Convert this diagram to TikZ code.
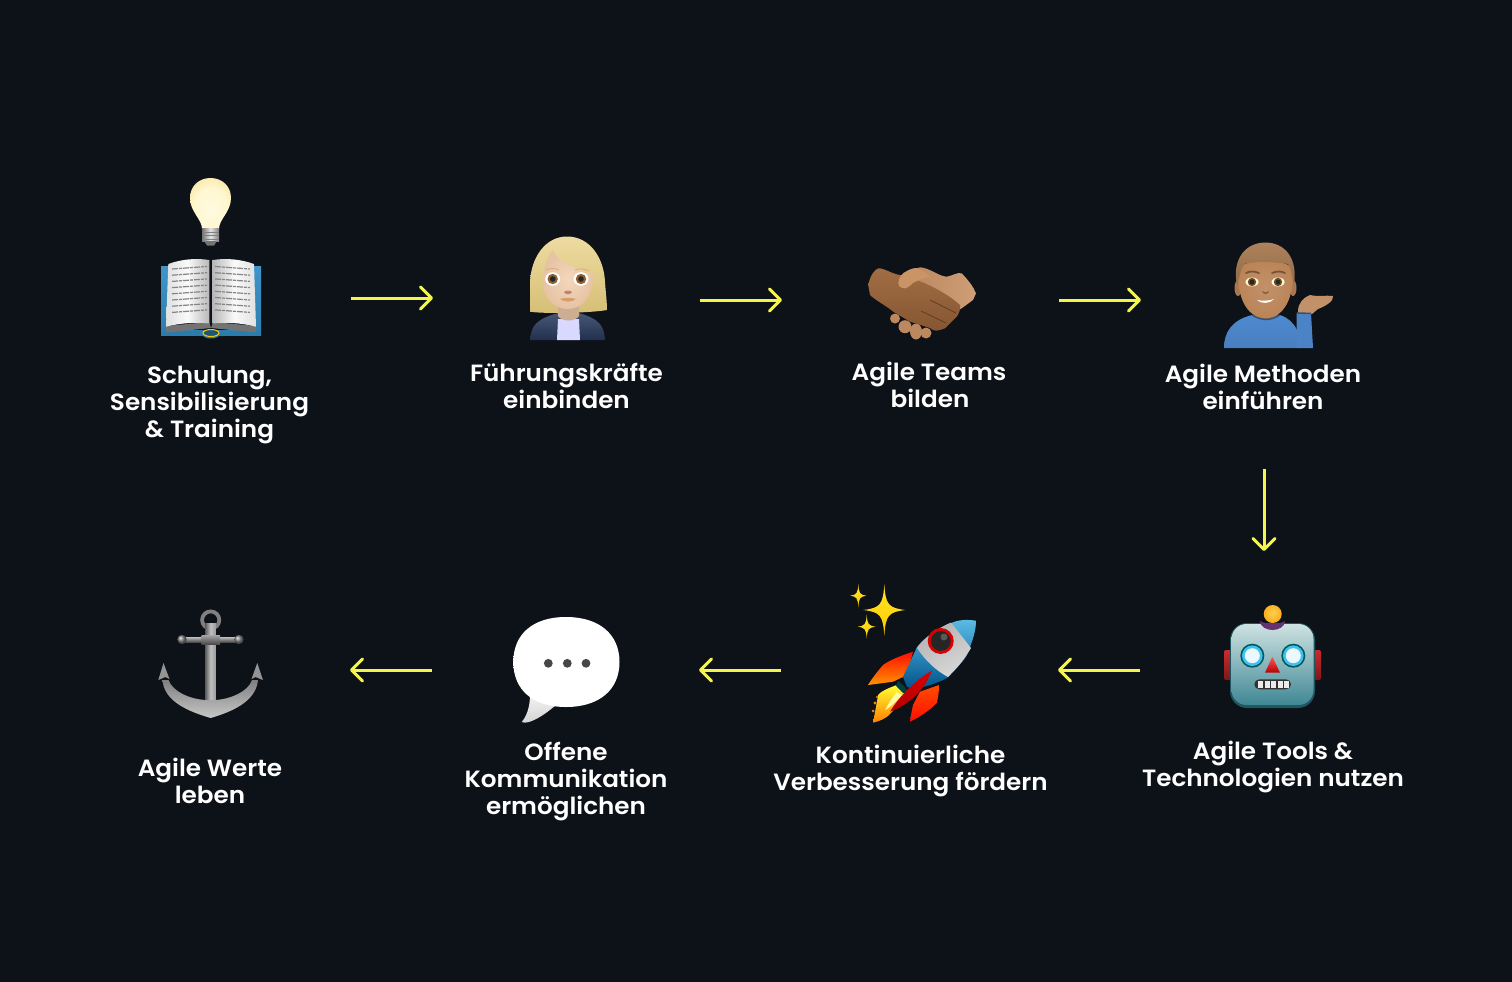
\documentclass[tikz,border=0pt]{standalone}
\usepackage{fontspec}
\setmainfont{Poppins}[UprightFont=* SemiBold,FakeStretch=1.05]
\usetikzlibrary{arrows.meta}
\definecolor{bgc}{HTML}{0D1118}
\definecolor{yel}{HTML}{F4F54C}
\definecolor{skinw}{HTML}{F2CDAC}
\definecolor{skinm}{HTML}{BB8458}
\definecolor{hairw}{HTML}{E8CF80}
\definecolor{hairm}{HTML}{A5784E}
\definecolor{shirtm}{HTML}{4E8AD0}
\definecolor{navy}{HTML}{26395C}
\definecolor{handd}{HTML}{9C653A}
\definecolor{handl}{HTML}{CB9467}
\definecolor{coverb}{HTML}{3F96C8}
\definecolor{coverd}{HTML}{2A7CAC}
\definecolor{robtop}{HTML}{CFE2E2}
\definecolor{robbot}{HTML}{3F8794}
\definecolor{robedge}{HTML}{1F5660}
\definecolor{earred}{HTML}{CC2A2E}
\pgfdeclareradialshading{bubshade}{\pgfpoint{0bp}{0bp}}{rgb(0bp)=(1,1,1);rgb(34bp)=(1,1,1);rgb(44bp)=(.93,.93,.93);rgb(50bp)=(.68,.68,.68);rgb(100bp)=(.6,.6,.6)}
\pgfdeclareradialshading{bulbshade}{\pgfpoint{0bp}{-6bp}}{rgb(0bp)=(1,.98,.88);rgb(20bp)=(1,.97,.82);rgb(36bp)=(.97,.89,.60);rgb(50bp)=(.88,.74,.36);rgb(100bp)=(.85,.7,.3)}
\pgfdeclareradialshading{ballshade}{\pgfpoint{0bp}{4bp}}{rgb(0bp)=(1,.82,.3);rgb(25bp)=(.98,.68,.12);rgb(50bp)=(.9,.5,.05);rgb(100bp)=(.9,.5,.05)}
\tikzset{
  lab/.style={text=white,align=center,inner sep=0pt,font=\fontsize{23.5}{27}\selectfont},
  flow/.style={draw=yel,line width=3pt,-{Straight Barb[length=11pt,width=22pt,line width=3pt,round]}},
  pagetext/.style={draw=black!48,line width=1.2pt,dash pattern=on 6pt off 1pt on 3pt off 1pt}
}
\begin{document}
\begin{tikzpicture}[x=1pt,y=-1pt]
\fill[bgc] (0,0) rectangle (1512,982);
\useasboundingbox (0,0) rectangle (1512,982);

% ---- light bulb
\shade[shading=bulbshade]
  (190,198) .. controls (190,186) and (199,178) .. (210.5,178) .. controls (222,178) and (231,186) .. (231,198)
  .. controls (231,212) and (219,219) .. (219,229) -- (202,229) .. controls (202,219) and (190,212) .. (190,198) -- cycle;
\shade[left color=black!55,right color=black!50,middle color=white!90!black] (202,228) rectangle (219,241);
\foreach \yy in {232,235.5,239}{\draw[black!50,line width=.7pt] (202,\yy) -- (219,\yy);}
\fill[black!55] (204,241) -- (217,241) -- (214,245.5) -- (207,245.5) -- cycle;

% ---- book
\shade[top color=coverb,bottom color=coverd]
  (161,266) -- (168,266) -- (168,330) -- (254,330) -- (254,266) -- (261,266) -- (261,336) -- (220,334) .. controls (219,340) and (203,340) .. (202,334) -- (161,336) -- cycle;
\fill[coverd] (161,331) -- (261,331) -- (261,336) -- (161,336) -- cycle;
\fill[black!55] (166,326) -- (209,322) -- (211,328) -- (166,332.5) -- cycle;
\fill[black!55] (256,326) -- (213,322) -- (211,328) -- (256,332.5) -- cycle;
\shade[left color=black!12,right color=black!28,middle color=black!2]
  (168.3,264) .. controls (182,259) and (196,258) .. (209.3,260) -- (209.3,323.5) .. controls (196,322) and (180,323) .. (166,326.7) -- cycle;
\shade[right color=black!12,left color=black!28,middle color=black!2]
  (254,264) .. controls (240,259) and (226,258) .. (212.7,260) -- (212.7,323.5) .. controls (226,322) and (242,323) .. (256,326.7) -- cycle;
\foreach \i in {0,...,7}{
  \draw[pagetext] (172,269+6.2*\i) -- (207,266.5+6.2*\i);
  \draw[pagetext] (215,266.5+6.2*\i) -- (250,269+6.2*\i);
}
\draw[yellow!60!orange,line width=1pt,fill=coverd!70!black] (211,333) ellipse [x radius=8pt,y radius=3.5pt];

% ---- woman
\shade[top color=hairw!75!white,bottom color=hairw!92!black]
  (567,236.5) .. controls (590,236.5) and (604,258) .. (605,282) .. controls (606,295) and (607,303) .. (607,310)
  .. controls (590,313) and (545,314) .. (530,311.7) .. controls (530,303) and (530,293) .. (530,282)
  .. controls (531,258) and (545,236.5) .. (567,236.5) -- cycle;
\shade[top color=navy!85!white,bottom color=navy!85!black]
  (530,340) .. controls (531,325) and (537,319) .. (558,313) -- (579,313) .. controls (599,319) and (604,325) .. (605,340) -- cycle;
\fill[white!85!blue] (558,319) -- (579,319) -- (580,340) -- (557,340) -- cycle;
\fill[skinw!85!black] (558,300) -- (579,300) -- (579,316) .. controls (575,322) and (562,322) .. (558,316) -- cycle;
\shade[inner color=skinw!80!white,outer color=skinw!95!black]
  (543,282) .. controls (543,268) and (548,255) .. (553,250) .. controls (557,262) and (575,268) .. (593,274)
  .. controls (594,296) and (582,309) .. (568,309) .. controls (554,309) and (543,298) .. (543,282) -- cycle;
\draw[brown!45!skinw,line width=.8pt] (546,270) .. controls (550,268) and (555,268) .. (559,270);
\draw[brown!45!skinw,line width=.8pt] (575,270) .. controls (580,268) and (585,269) .. (589,271);
\fill[white] (552.7,279) ellipse [x radius=7.5pt,y radius=6.8pt];
\fill[white] (581,279) ellipse [x radius=7.5pt,y radius=6.8pt];
\fill[brown!75!black] (552.7,279) circle [radius=5.2pt];
\fill[brown!75!black] (581,279) circle [radius=5.2pt];
\fill[black!85] (552.7,279) circle [radius=2.8pt];
\fill[black!85] (581,279) circle [radius=2.8pt];
\fill[skinw!80!red!80!black] (564,292) .. controls (566,290) and (570,290) .. (572,292) .. controls (571,295) and (565,295) .. (564,292) -- cycle;
\fill[brown!60!skinw] (560,299) .. controls (565,297.5) and (571,297.5) .. (576,299) .. controls (572,302.5) and (564,302.5) .. (560,299) -- cycle;

% ---- handshake
\shade[left color=handl!90!black,right color=handl!90!white]
  (903,273) -- (920,267.3) .. controls (930,268) and (938,276) .. (946.7,276.7) .. controls (952,276) and (957,272) .. (961.7,273.3)
  .. controls (968,280) and (973,286) .. (976,293.3) -- (973,300) -- (961.7,308.3) -- (933,325) -- (903,300) -- cycle;
\fill[handl!92!black] (895,318.5) circle [radius=5pt];
\fill[handl!92!black] (905,326.7) circle [radius=6.5pt];
\fill[handl!92!black] (916,331.5) ellipse [x radius=6pt,y radius=8pt];
\fill[handl!92!black] (926,333) circle [radius=5.5pt];
\shade[top color=handd!95!white,bottom color=handd!85!black]
  (868.3,285) .. controls (870,276) and (874,270) .. (878.3,268.3) .. controls (884,268) and (892,274) .. (900,275)
  -- (916.7,280) .. controls (935,287) and (950,296) .. (960,305) .. controls (961,310) and (958,315) .. (956.7,316.7)
  -- (945,328.3) .. controls (938,331) and (934,332) .. (930,328) -- (910,321.7) -- (893.3,311.7) .. controls (885,305) and (875,300) .. (870,295) -- cycle;
\fill[handl] (898.3,283.3) .. controls (899,278) and (900,276) .. (903.3,273.3) .. controls (908,270) and (912,268) .. (916.7,268)
  .. controls (922,270) and (926,273) .. (930,276.7) .. controls (924,278) and (918,280) .. (913,283) .. controls (910,286) and (907,288) .. (905,288.3) .. controls (901,288) and (899,287) .. (898.3,283.3) -- cycle;
\draw[handd!60!black,line width=.8pt] (930,300) -- (956,313);
\draw[handd!60!black,line width=.8pt] (921,311) -- (946,323);

% ---- man
\shade[top color=shirtm,bottom color=shirtm!92!black]
  (1224,348) .. controls (1224,332) and (1232,320) .. (1252,315) .. controls (1262,320) and (1270,320) .. (1280,315)
  .. controls (1288,318) and (1293,322) .. (1297,330) -- (1297,348) -- cycle;
\fill[shirtm!95!black] (1296.5,313) -- (1311,313) -- (1313,348) -- (1297,348) -- cycle;
\fill[skinm!90!white] (1298,311) .. controls (1298,303) and (1304,297) .. (1310,295) .. controls (1318,297) and (1326,295) .. (1333,296)
  .. controls (1334,301) and (1326,306) .. (1318,309) -- (1312,314) -- (1298,314) -- cycle;
\draw[shirtm!60!black,line width=1.6pt] (1297,313) -- (1311,313.5);
\fill[skinm!80!black] (1254,305) -- (1278,305) -- (1278,315) .. controls (1272,321) and (1260,321) .. (1254,315) -- cycle;
\draw[shirtm!60!black,line width=1.4pt] (1252,315) .. controls (1262,321) and (1270,321) .. (1280,315);
\fill[skinm!90!black] (1238,288) ellipse [x radius=3.5pt,y radius=8pt];
\fill[skinm!90!black] (1293,288) ellipse [x radius=3.5pt,y radius=8pt];
\shade[inner color=skinm!90!white,outer color=skinm]
  (1238,270) .. controls (1240,258) and (1291,258) .. (1293,270) .. controls (1294,296) and (1285,318) .. (1265.5,318) .. controls (1246,318) and (1237,296) .. (1238,270) -- cycle;
\shade[top color=hairm!92!white,bottom color=hairm!88!black]
  (1237,285) .. controls (1232,262) and (1243,243) .. (1265,242.5) .. controls (1285,242.5) and (1298,258) .. (1294,285)
  .. controls (1292,278) and (1292,270) .. (1288,264) .. controls (1275,262) and (1255,261) .. (1244,264) .. controls (1240,272) and (1239,278) .. (1237,285) -- cycle;
\draw[hairm!70!black,line width=1.8pt,line cap=round] (1246,273) .. controls (1250,271) and (1254,271) .. (1259,273);
\draw[hairm!70!black,line width=1.8pt,line cap=round] (1272,273) .. controls (1277,271) and (1281,271) .. (1285,273);
\fill[white!85!yellow] (1252,282) ellipse [x radius=6.5pt,y radius=4.5pt];
\fill[white!85!yellow] (1278,282) ellipse [x radius=6.5pt,y radius=4.5pt];
\fill[brown!60!black] (1252,282) circle [radius=4.2pt];
\fill[brown!60!black] (1278,282) circle [radius=4.2pt];
\fill[black!85] (1252,282) circle [radius=2.4pt];
\fill[black!85] (1278,282) circle [radius=2.4pt];
\fill[skinm!70!black] (1262,291) .. controls (1264,293) and (1267,293) .. (1269,291) .. controls (1268,295) and (1263,295) .. (1262,291) -- cycle;
\fill[white] (1257,300) .. controls (1262,301) and (1269,301) .. (1274,299) .. controls (1270,304) and (1261,304) .. (1257,300) -- cycle;

% ---- bubble
\shade[top color=black!5,bottom color=black!18] (530,695) .. controls (530,708) and (526,717) .. (521.7,722) .. controls (528,725) and (542,717) .. (556,705) -- cycle;
\shade[shading=bubshade]
  (513.3,662) .. controls (513.3,634) and (533,617) .. (566,617) .. controls (599,617) and (619.5,634) .. (619.5,662)
  .. controls (619.5,690) and (599,707) .. (566,707) .. controls (533,707) and (513.3,690) .. (513.3,662) -- cycle;
\foreach \xx in {548.3,567.3,586}{\fill[black!72] (\xx,663.3) circle [radius=4.4pt];}

% ---- sparkles
\foreach \cx/\cy/\rx/\ry in {884.3/610/21/26, 858.3/595.7/8/12, 866.7/626.7/9/12}{
  \shade[top color=yellow!75!orange!85!white,bottom color=yellow!60!orange]
    (\cx,\cy-\ry) .. controls (\cx+.06*\rx,\cy-.2*\ry) and (\cx+.2*\rx,\cy-.08*\ry) .. (\cx+\rx,\cy)
    .. controls (\cx+.2*\rx,\cy+.08*\ry) and (\cx+.06*\rx,\cy+.2*\ry) .. (\cx,\cy+\ry)
    .. controls (\cx-.06*\rx,\cy+.2*\ry) and (\cx-.2*\rx,\cy+.08*\ry) .. (\cx-\rx,\cy)
    .. controls (\cx-.2*\rx,\cy-.08*\ry) and (\cx-.06*\rx,\cy-.2*\ry) .. (\cx,\cy-\ry) -- cycle;
}
% ---- rocket
\shade[top color=red!90!orange,bottom color=orange!85!yellow]
  (913,651.7) .. controls (900,656) and (890,660) .. (883,665) .. controls (877,672) and (871,680) .. (868,685) -- (893,681.7) -- (907,675) -- cycle;
\shade[top color=orange!60!red,bottom color=red!90!orange]
  (939,685) .. controls (939,692) and (938,698) .. (936.7,703) .. controls (930,710) and (920,717) .. (910,721.7) .. controls (911,714) and (912,710) .. (913,705) -- (920,691.7) -- cycle;
\shade[top color=yellow!80!white,bottom color=orange]
  (897,685) .. controls (888,688) and (880,692) .. (878,695) .. controls (877,702) and (875,712) .. (873,722.7) .. controls (880,721) and (884,719) .. (888,716) -- (907,696) -- cycle;
\fill[yellow!35!white] (897,692) .. controls (892,698) and (888,704) .. (885,710) .. controls (891,707) and (897,700) .. (902,695) -- cycle;
\fill[orange] (875,703) circle [radius=1.6pt] (877,697) circle [radius=1.2pt] (873,711) circle [radius=1.5pt];
\fill[black!50!teal] (898,681) -- (904,686) -- (909,693) -- (903,693) -- (896,686) -- cycle;
\shade[top color=blue!30!cyan!60!white!90!black,bottom color=blue!40!cyan!55!black]
  (976,620.7) .. controls (965,619) and (955,620) .. (948,625) .. controls (930,632) and (920,643) .. (917,647)
  .. controls (911,660) and (906,670) .. (903,677) -- (907,687) .. controls (912,689) and (916,689) .. (920,688)
  .. controls (930,685) and (940,682) .. (947,678) .. controls (956,668) and (966,660) .. (968,652) .. controls (973,640) and (976,630) .. (976,620.7) -- cycle;
\shade[left color=black!30,right color=white!85!black,shading angle=30]
  (951,622.5) .. controls (936,629) and (924,638) .. (917,648) .. controls (925,660) and (935,670) .. (948,677)
  .. controls (955,670) and (962,663) .. (971,648) -- cycle;
\fill[red!85!black] (940.7,641) circle [radius=13pt];
\fill[black!85] (940.7,641) circle [radius=10pt];
\fill[black!65] (944,637) circle [radius=3.5pt];
\shade[top color=red!85!black,bottom color=red!70!black]
  (932,670.7) .. controls (915,680) and (898,698) .. (890,711.7) .. controls (905,706) and (922,695) .. (932,670.7) -- cycle;

% ---- robot
\shade[top color=earred,bottom color=earred!60!black,rounded corners=2pt] (1224,650) rectangle (1232,680);
\shade[top color=earred,bottom color=earred!60!black,rounded corners=2pt] (1313,650) rectangle (1321,680);
\fill[robedge,rounded corners=17pt] (1230,623) rectangle (1315,708);
\shade[top color=robtop,bottom color=robbot,rounded corners=15pt] (1231.5,624) rectangle (1313.5,705);
\fill[blue!55!red!55!black!80] (1260,621) .. controls (1267,625) and (1278,625) .. (1285,621) .. controls (1285,627) and (1278,630) .. (1272.5,630) .. controls (1267,630) and (1260,627) .. (1260,621) -- cycle;
\shade[shading=ballshade] (1272.7,614) circle [radius=9pt];
\foreach \ex in {1252.3,1293.3}{
  \fill[teal!70!black] (\ex,655.7) circle [radius=12pt];
  \fill[cyan!75!white] (\ex,655.7) circle [radius=10.3pt];
  \fill[white!92!cyan] (\ex,655.7) circle [radius=7.5pt];
}
\shade[top color=red!65!white,bottom color=red!70!black] (1272.3,656.7) -- (1280,672.7) -- (1265,672.7) -- cycle;
\fill[black!80,rounded corners=5pt] (1254.3,679.3) rectangle (1291,689.3);
\foreach \mx in {1258,1264.5,1271,1277.5,1284}{\fill[white!92!black] (\mx,681) rectangle (\mx+5,687.6);}

% ---- anchor
\draw[black!50,line width=3.8pt] (210.7,620) circle [radius=8.6pt];
\shade[left color=black!65,right color=black!40,middle color=black!25]
  (205,623) -- (216,623) -- (216,708) -- (211,716) -- (205,708) -- cycle;
\shade[top color=black!25,bottom color=black!70] (182,637) rectangle (239,642);
\shade[top color=black!35,bottom color=black!70] (201.7,635) rectangle (220,644);
\shade[ball color=black!50] (182,639.5) circle [radius=4.7pt];
\shade[ball color=black!50] (239,639.5) circle [radius=4.7pt];
\shade[top color=black!50,bottom color=black!22]
  (162.5,680) .. controls (164,702) and (190,712) .. (210.7,718) .. controls (231,712) and (256,702) .. (258,680)
  -- (252,680) .. controls (248,692) and (230,699) .. (216,700) -- (205,700) .. controls (190,699) and (173,692) .. (168.5,680) -- cycle;
\fill[black!42] (163.5,663) -- (169.5,679) -- (165.5,677) -- (158.3,680) -- cycle;
\fill[black!42] (257.3,663) -- (251.5,679) -- (255.5,677) -- (263,680) -- cycle;

% ---- labels
\node[lab] (l1) at (209.5,405) {Schulung,\\Sensibilisierung\\\& Training};
\node[lab] (l2) at (566.5,386) {Führungskräfte\\einbinden};
\node[lab] (l3) at (929,384.5) {Agile Teams\\\kern2pt bilden};
\node[lab] (l4) at (1263,386.5) {Agile Methoden\\einführen};
\node[lab] (l5) at (1273,766.5) {Agile Tools \&\\Technologien nutzen};
\node[lab] (l6) at (910.5,770.5) {Kontinuierliche\\Verbesserung fördern};
\node[lab] (l7) at (566,782) {Offene\\Kommunikation\\ermöglichen};
\node[lab] (l8) at (210,780.5) {Agile Werte\\leben};

% ---- connectors
\coordinate (a1) at (351,298); \coordinate (b1) at (433,298);
\coordinate (a2) at (700,300); \coordinate (b2) at (782,300);
\coordinate (a3) at (1059,300); \coordinate (b3) at (1141,300);
\coordinate (a4) at (1264,469); \coordinate (b4) at (1264,551);
\coordinate (a5) at (1140,670); \coordinate (b5) at (1058,670);
\coordinate (a6) at (781,670); \coordinate (b6) at (699,670);
\coordinate (a7) at (432,670); \coordinate (b7) at (350,670);
\foreach \i in {1,...,7}{\draw[flow] (a\i) -- (b\i);}
\end{tikzpicture}
\end{document}
